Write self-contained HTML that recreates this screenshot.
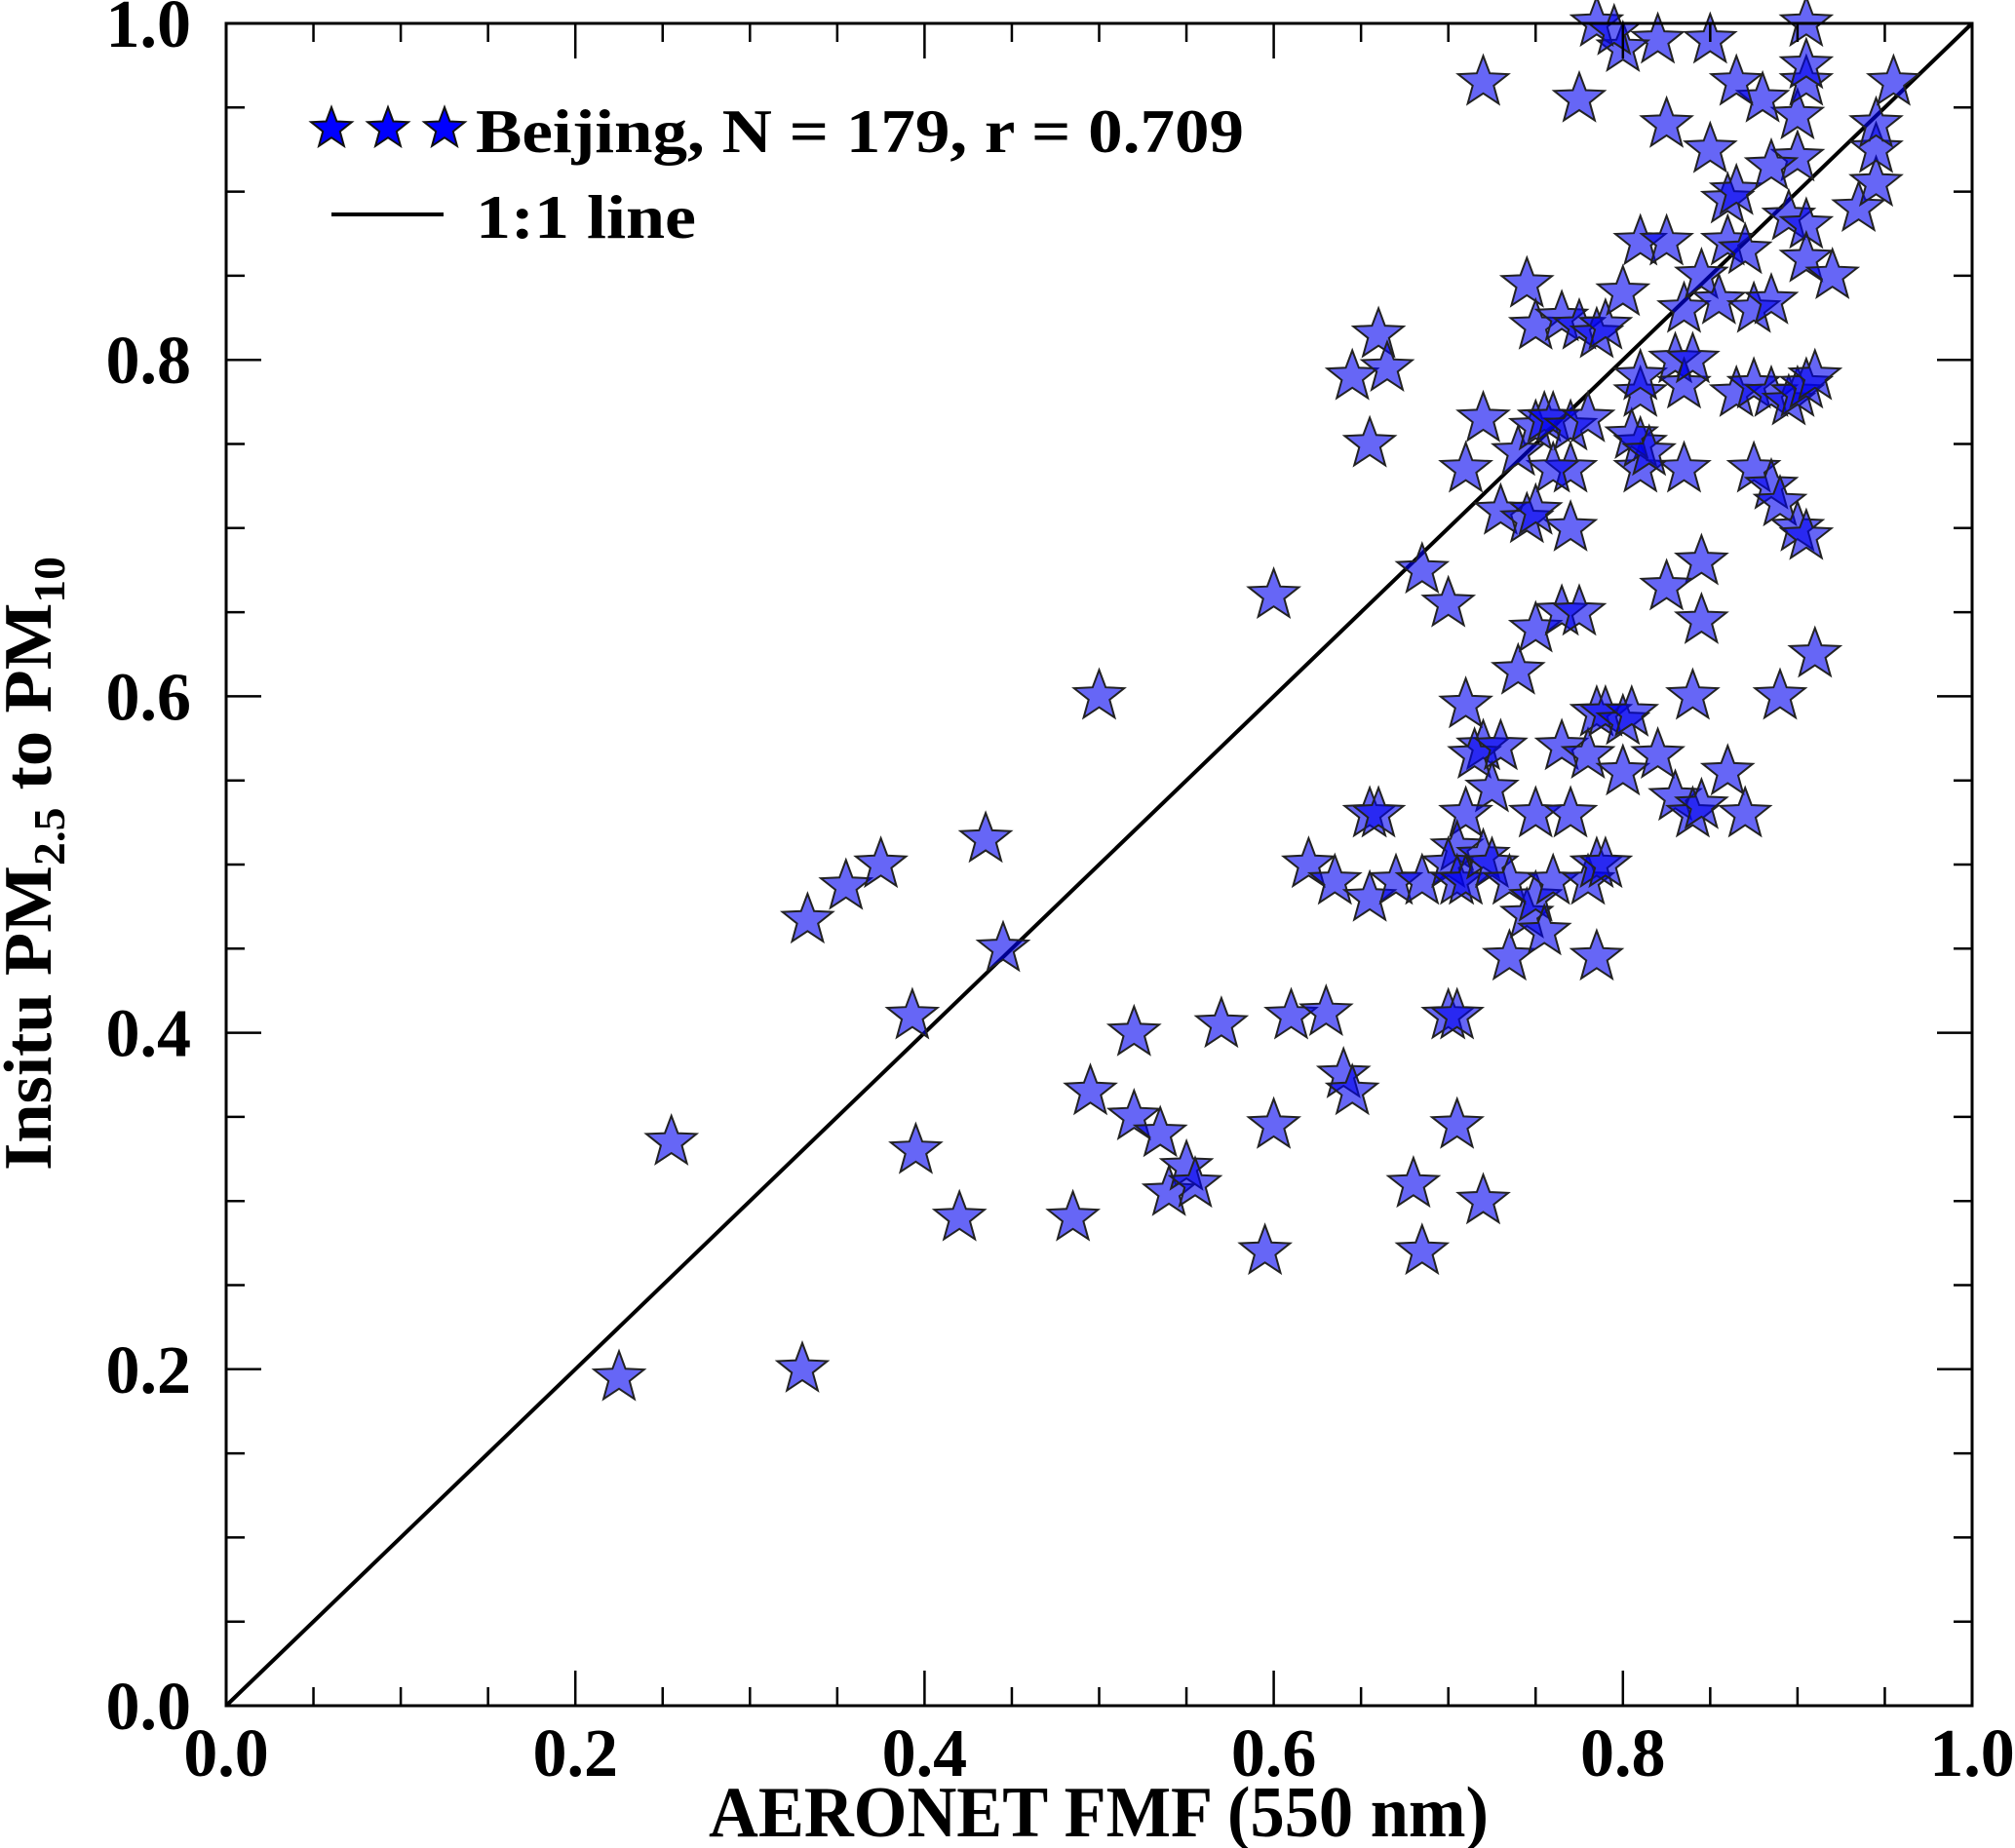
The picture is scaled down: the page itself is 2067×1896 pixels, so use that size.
<!DOCTYPE html>
<html><head><meta charset="utf-8"><style>
html,body{margin:0;padding:0;background:#fff;}
svg{display:block;}
text{font-family:"Liberation Serif",serif;font-weight:bold;fill:#000;}
</style></head><body>
<svg id="chart" width="2067" height="1896" viewBox="0 0 2067 1896" xmlns="http://www.w3.org/2000/svg">
<g id="plot"></g>
</svg>
<script>
const xs = [0.225,0.33,0.255,0.333,0.355,0.375,0.435,0.445,0.393,0.395,0.42,0.485,0.5,0.495,0.52,0.52,0.535,0.54,0.55,0.555,0.57,0.595,0.6,0.61,0.6,0.63,0.64,0.645,0.62,0.635,0.655,0.655,0.66,0.67,0.685,0.68,0.685,0.7,0.705,0.705,0.72,0.645,0.66,0.665,0.655,0.685,0.7,0.71,0.72,0.71,0.72,0.715,0.725,0.73,0.71,0.705,0.7,0.705,0.71,0.72,0.725,0.735,0.735,0.74,0.75,0.75,0.745,0.75,0.755,0.76,0.765,0.77,0.765,0.775,0.77,0.77,0.76,0.73,0.745,0.75,0.74,0.75,0.755,0.76,0.77,0.78,0.745,0.75,0.765,0.775,0.785,0.79,0.78,0.785,0.79,0.785,0.78,0.785,0.79,0.8,0.805,0.8,0.82,0.83,0.84,0.845,0.86,0.87,0.84,0.845,0.845,0.825,0.835,0.81,0.81,0.805,0.815,0.8,0.81,0.81,0.81,0.825,0.83,0.835,0.835,0.84,0.845,0.855,0.86,0.86,0.865,0.87,0.865,0.875,0.875,0.885,0.89,0.885,0.895,0.9,0.905,0.91,0.9,0.905,0.91,0.89,0.875,0.885,0.895,0.905,0.905,0.92,0.935,0.945,0.945,0.945,0.955,0.9,0.9,0.905,0.905,0.88,0.885,0.865,0.85,0.825,0.85,0.82,0.8,0.785,0.775,0.72,0.905,0.795];
const ys = [0.195,0.2,0.335,0.467,0.487,0.5,0.515,0.45,0.41,0.33,0.29,0.29,0.6,0.365,0.4,0.35,0.34,0.305,0.32,0.31,0.405,0.27,0.345,0.41,0.66,0.412,0.375,0.365,0.5,0.49,0.48,0.53,0.53,0.49,0.49,0.31,0.27,0.41,0.41,0.345,0.3,0.79,0.815,0.795,0.75,0.675,0.655,0.735,0.765,0.595,0.57,0.565,0.545,0.57,0.53,0.51,0.5,0.49,0.49,0.505,0.5,0.49,0.445,0.615,0.64,0.53,0.47,0.48,0.46,0.49,0.57,0.53,0.65,0.65,0.7,0.735,0.735,0.71,0.705,0.71,0.745,0.76,0.765,0.765,0.76,0.765,0.845,0.82,0.825,0.82,0.815,0.82,0.49,0.5,0.5,0.445,0.565,0.59,0.59,0.585,0.59,0.555,0.565,0.54,0.53,0.535,0.555,0.53,0.6,0.645,0.68,0.665,0.735,0.735,0.75,0.755,0.745,0.84,0.78,0.79,0.87,0.87,0.8,0.785,0.83,0.8,0.85,0.835,0.87,0.895,0.9,0.865,0.78,0.785,0.735,0.725,0.715,0.78,0.775,0.78,0.785,0.79,0.7,0.695,0.625,0.6,0.83,0.835,0.885,0.88,0.86,0.85,0.89,0.905,0.925,0.94,0.965,0.92,0.945,0.965,0.975,0.955,0.915,0.965,0.925,0.94,0.99,0.99,0.985,1.0,0.955,0.965,1.0,0.995];
const xTickLabels = ["0.0","0.2","0.4","0.6","0.8","1.0"];
const yTickLabels = ["0.0","0.2","0.4","0.6","0.8","1.0"];

const NS="http://www.w3.org/2000/svg";
const L=232,R=2023,T=24,B=1750;
const sx=v=>L+v*(R-L), sy=v=>B-v*(B-T);
const svg=document.getElementById('chart'), g=document.getElementById('plot');
function mk(tag,attrs,parent){const e=document.createElementNS(NS,tag);for(const k in attrs)e.setAttribute(k,attrs[k]);(parent||g).appendChild(e);return e;}
function starPts(cx,cy,ro){const ri=ro*0.42;let p=[];for(let i=0;i<10;i++){const r=i%2?ri:ro;const a=-Math.PI/2+i*Math.PI/5;p.push((cx+r*Math.cos(a)).toFixed(1)+','+(cy+r*Math.sin(a)).toFixed(1));}return p.join(' ');}

let ln=mk('line',{x1:sx(0),y1:sy(0),x2:sx(1),y2:sy(1),stroke:'#000','stroke-width':4});



for(let i=0;i<xs.length;i++){
  const s=mk('polygon',{points:starPts(sx(xs[i]),sy(ys[i]),27),fill:'rgba(0,0,240,0.6)',stroke:'#222','stroke-width':2,'stroke-linejoin':'miter'});
  
  
}

let fr=mk('rect',{x:L,y:T,width:R-L,height:B-T,fill:'none',stroke:'#000','stroke-width':3});



for(let k=0;k<=20;k++){
  const v=k/20, major=(k%4===0), len=major?36:19;
  const x=sx(v), y=sy(v);
  if(k>0&&k<20){
    let t1=mk('line',{x1:x,y1:B,x2:x,y2:B-len,stroke:'#000','stroke-width':2.5});
    
    
    let t2=mk('line',{x1:x,y1:T,x2:x,y2:T+len,stroke:'#000','stroke-width':2.5});
    
    
    let t3=mk('line',{x1:L,y1:y,x2:L+len,y2:y,stroke:'#000','stroke-width':2.5});
    
    
    let t4=mk('line',{x1:R,y1:y,x2:R-len,y2:y,stroke:'#000','stroke-width':2.5});
    
    
  }
}
for(let i=0;i<xTickLabels.length;i++){
  const t=mk('text',{x:sx(i*0.2),y:1822,'font-size':70,'text-anchor':'middle'});
  t.textContent=xTickLabels[i];
  
  
}
for(let i=0;i<yTickLabels.length;i++){
  const t=mk('text',{x:196,y:sy(i*0.2)+24,'font-size':70,'text-anchor':'end'});
  t.textContent=yTickLabels[i];
  
  
}
</script>
<script>
(function(){
const NS="http://www.w3.org/2000/svg";const svg=document.getElementById('chart');
function mk(tag,attrs){const e=document.createElementNS(NS,tag);for(const k in attrs)e.setAttribute(k,attrs[k]);svg.appendChild(e);return e;}
function starPts(cx,cy,ro){const ri=ro*0.42;let p=[];for(let i=0;i<10;i++){const r=i%2?ri:ro;const a=-Math.PI/2+i*Math.PI/5;p.push((cx+r*Math.cos(a)).toFixed(1)+','+(cy+r*Math.sin(a)).toFixed(1));}return p.join(' ');}
let xt=mk('text',{x:1127,y:1884,'font-size':74,'text-anchor':'middle',textLength:800,lengthAdjust:'spacingAndGlyphs'});
xt.textContent='AERONET FMF (550 nm)';


let yt=mk('text',{transform:'translate(52,886) rotate(-90)','font-size':70,'text-anchor':'middle',textLength:630,lengthAdjust:'spacingAndGlyphs'});


yt.innerHTML='Insitu PM<tspan font-size="46" dy="14">2.5</tspan><tspan dy="-14"> to PM</tspan><tspan font-size="46" dy="14">10</tspan>';
[340,398,456].forEach(cx=>{
  let s=mk('polygon',{points:starPts(cx,132,22),fill:'#0000ff',stroke:'#111','stroke-width':2});
  
  
});
let lt=mk('text',{x:488,y:156,'font-size':64,textLength:788,lengthAdjust:'spacingAndGlyphs'});
lt.textContent='Beijing, N = 179, r = 0.709';


let ll=mk('line',{x1:340,y1:220,x2:455,y2:220,stroke:'#000','stroke-width':4});


let lt2=mk('text',{x:488,y:244,'font-size':64,textLength:226,lengthAdjust:'spacingAndGlyphs'});
lt2.textContent='1:1 line';


})();
</script>
</body></html>
